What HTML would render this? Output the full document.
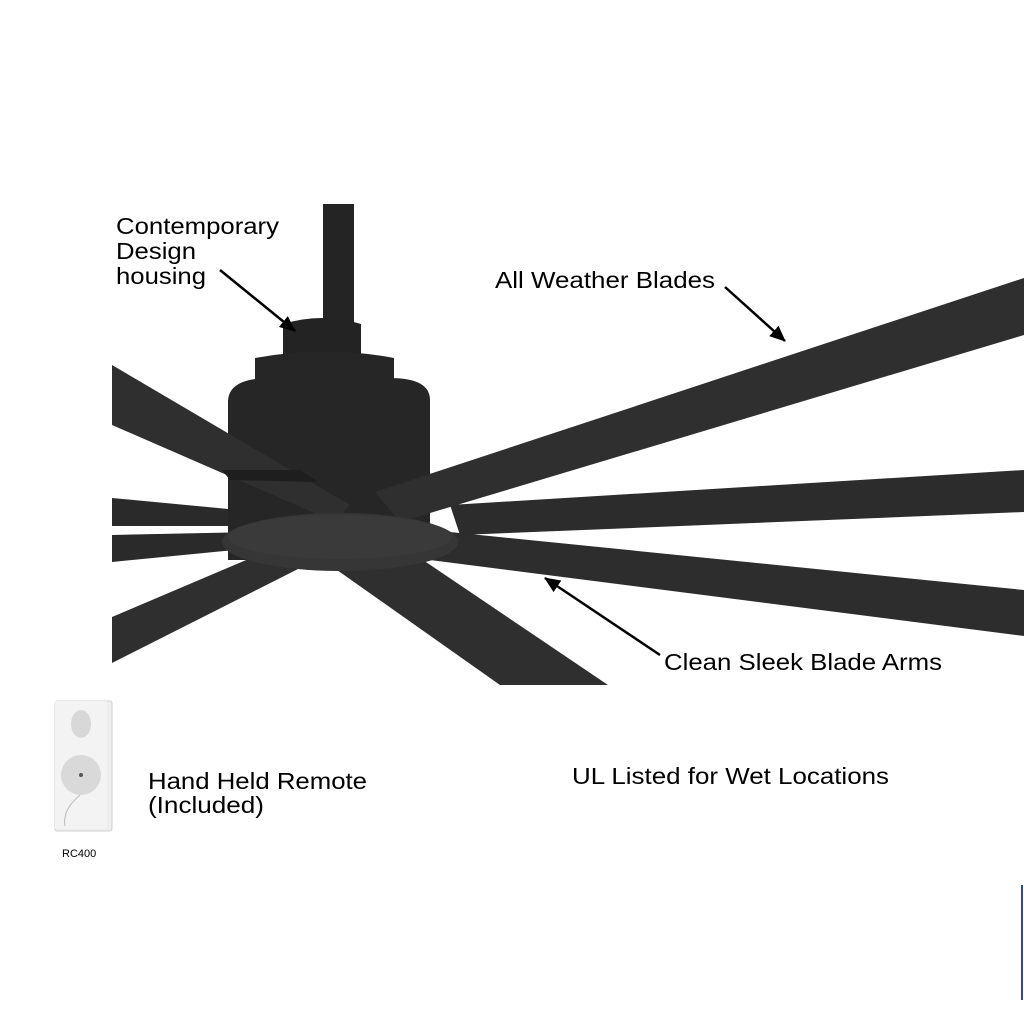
<!DOCTYPE html>
<html><head><style>
html,body{margin:0;padding:0;background:#fff;}
svg{display:block}
text{font-family:"Liberation Sans",Arial,sans-serif;fill:#000}
</style></head><body>
<svg width="1024" height="1024" viewBox="0 0 1024 1024" xmlns="http://www.w3.org/2000/svg">
<defs>
<marker id="ah" markerWidth="16" markerHeight="14" refX="15" refY="7" orient="auto" markerUnits="userSpaceOnUse">
<path d="M0,0 L16,7 L0,14 z" fill="#000"/>
</marker>
</defs>
<rect width="1024" height="1024" fill="#fff"/>
<!-- downrod -->
<rect x="323" y="204" width="31" height="120" fill="#242424"/>
<polygon points="112,498 260,512 258,526 112,526" fill="#2a2a2a"/>
<polygon points="112,535 255,532 255,548 112,562" fill="#2a2a2a"/>
<!-- housing -->
<path d="M283,324 Q322,312 361,324 L361,355 L283,355 Z" fill="#232323"/>
<path d="M255,358 Q325,345 394,358 L394,380 L255,380 Z" fill="#262626"/>
<path d="M228,400 Q230,378 270,378 L390,378 Q430,378 430,400 L430,560 L228,560 Z" fill="#262626"/>
<!-- upper-left blade in front -->
<polygon points="112,365 350,505 335,522 112,425" fill="#2f2f2f"/>
<polygon points="222,470 300,470 318,482 230,480" fill="#1e1e1e"/>
<!-- right blades -->
<polygon points="375,492 1024,278 1024,335 400,522" fill="#2f2f2f"/>
<polygon points="450,505 1024,470 1024,512 460,535" fill="#2c2c2c"/>
<polygon points="430,530 1024,590 1024,636 430,560" fill="#2d2d2d"/>
<!-- lower blades -->
<polygon points="320,558 420,558 608,685 500,685" fill="#2f2f2f"/>
<polygon points="112,617 265,552 300,568 112,663" fill="#2f2f2f"/>
<!-- hub disc -->
<ellipse cx="340" cy="542" rx="118" ry="29" fill="#363636"/>
<ellipse cx="340" cy="537" rx="112" ry="22" fill="#3a3a3a"/>
<!-- arrows -->
<line x1="220" y1="270" x2="295" y2="331" stroke="#000" stroke-width="2.5" marker-end="url(#ah)"/>
<line x1="725" y1="287" x2="785" y2="341" stroke="#000" stroke-width="2.5" marker-end="url(#ah)"/>
<line x1="660" y1="655" x2="545" y2="578" stroke="#000" stroke-width="2.5" marker-end="url(#ah)"/>
<!-- labels -->
<text x="116" y="234" font-size="23" textLength="163" lengthAdjust="spacingAndGlyphs">Contemporary</text>
<text x="116" y="259" font-size="23" textLength="80" lengthAdjust="spacingAndGlyphs">Design</text>
<text x="116" y="284" font-size="23" textLength="90" lengthAdjust="spacingAndGlyphs">housing</text>
<text x="495" y="288" font-size="23" textLength="220" lengthAdjust="spacingAndGlyphs">All Weather Blades</text>
<text x="664" y="670" font-size="23" textLength="278" lengthAdjust="spacingAndGlyphs">Clean Sleek Blade Arms</text>
<text x="148" y="789" font-size="23" textLength="219" lengthAdjust="spacingAndGlyphs">Hand Held Remote</text>
<text x="148" y="813" font-size="23" textLength="116" lengthAdjust="spacingAndGlyphs">(Included)</text>
<text x="572" y="784" font-size="23" textLength="317" lengthAdjust="spacingAndGlyphs">UL Listed for Wet Locations</text>
<text x="62" y="857" font-size="11">RC400</text>
<!-- remote -->
<rect x="55" y="701" width="57" height="130" rx="2" fill="#eeeeee" stroke="#d0d0d0"/>
<rect x="55" y="701" width="52" height="128" fill="#f3f3f3"/>
<ellipse cx="81" cy="724" rx="10" ry="14" fill="#d8d8d8"/>
<circle cx="81" cy="775" r="20" fill="#d9d9d9"/>
<circle cx="81" cy="775" r="2" fill="#555"/>
<path d="M80,795 Q62,810 65,826" stroke="#bbb" fill="none"/>
<line x1="1022" y1="885" x2="1022" y2="1000" stroke="#2a4d9a" stroke-width="2"/>
</svg>
</body></html>
